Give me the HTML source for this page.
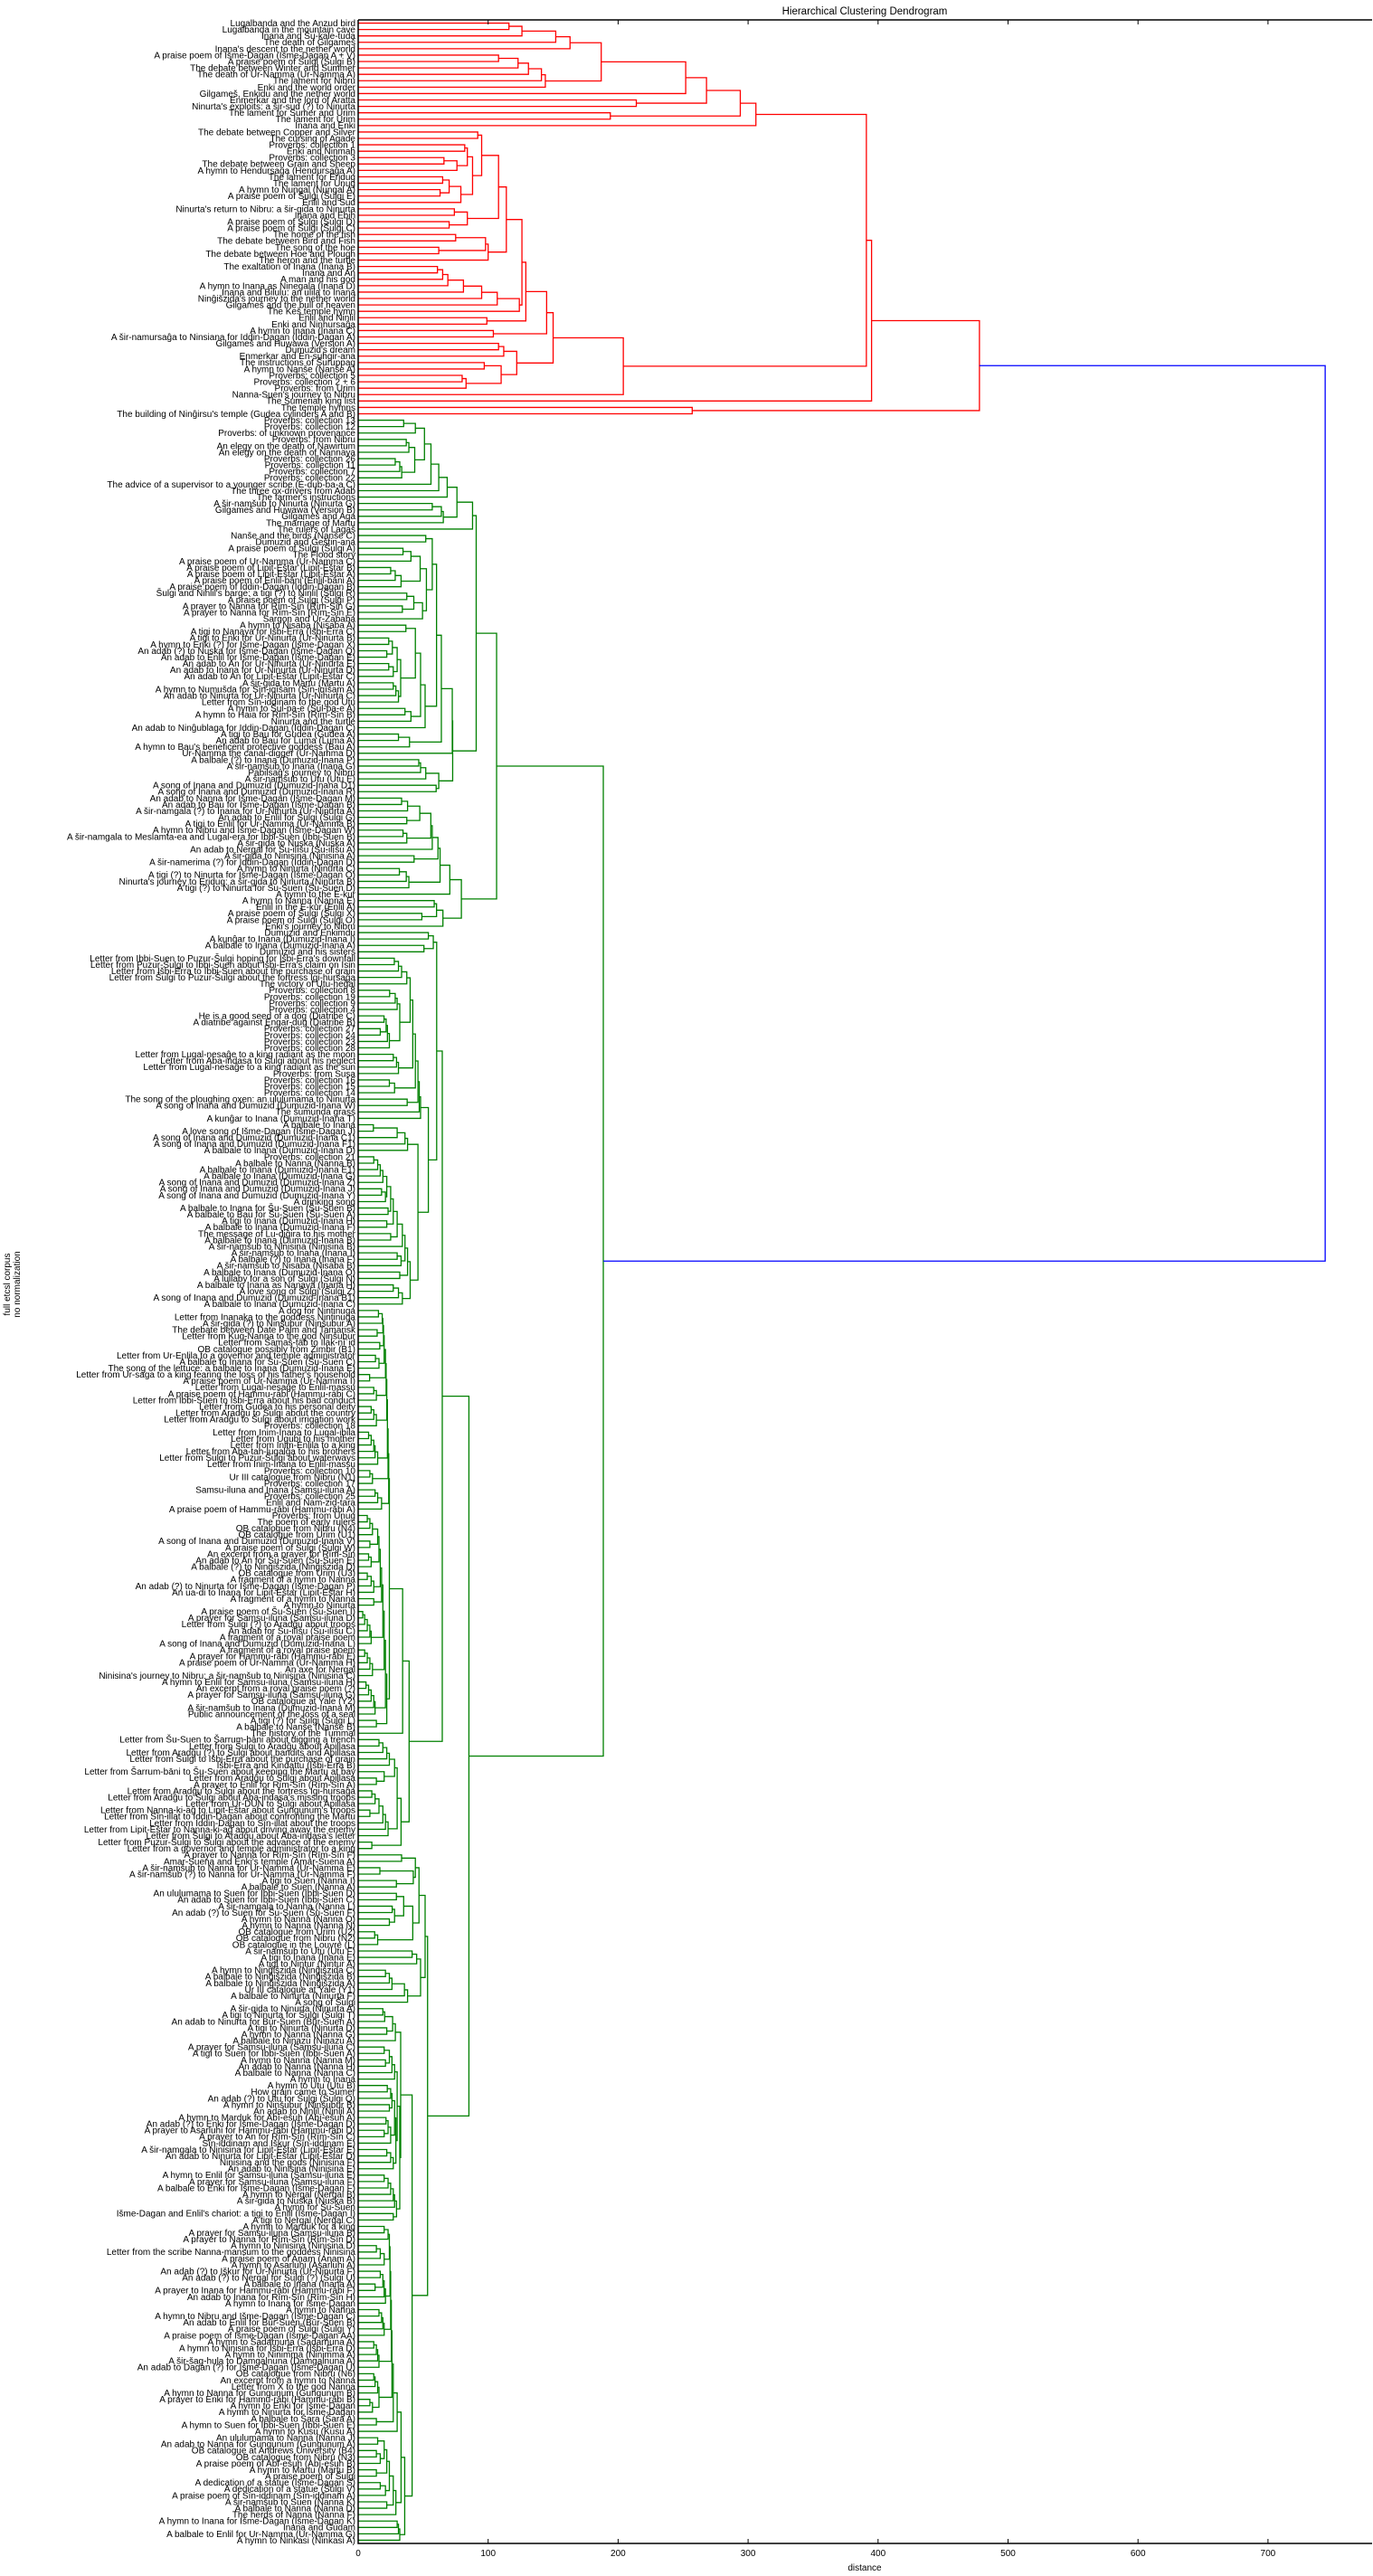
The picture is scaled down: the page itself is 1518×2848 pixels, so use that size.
<!DOCTYPE html>
<html><head><meta charset="utf-8"><title>Hierarchical Clustering Dendrogram</title>
<style>
html,body{margin:0;padding:0;background:#fff;}
svg{display:block;font-family:"Liberation Sans","DejaVu Sans",sans-serif;}
</style></head>
<body>
<svg id="chart" width="1518" height="2848" viewBox="0 0 1518 2848" xmlns="http://www.w3.org/2000/svg">
<rect x="0" y="0" width="1518" height="2848" fill="#fff"/>
<text x="956" y="16" text-anchor="middle" font-size="11.5" fill="#000">Hierarchical Clustering Dendrogram</text>
<g font-size="10" fill="#000">
<text transform="translate(11,1420) rotate(-90)" text-anchor="middle">full etcsl corpus</text>
<text transform="translate(22,1420) rotate(-90)" text-anchor="middle">no normalization</text>
</g>
<text x="956" y="2842" text-anchor="middle" font-size="10" fill="#000">distance</text>
<g id="links"></g>
<g id="labels"></g>
<g id="axes"></g>
</svg>
<script>
// ---- data ----
const xTicks = [0,100,200,300,400,500,600,700];
const labels = [
"Lugalbanda and the Anzud bird","Lugalbanda in the mountain cave","Inana and Šu-kale-tuda","The death of Gilgameš","Inana's descent to the nether world","A praise poem of Išme-Dagan (Išme-Dagan A + V)","A praise poem of Šulgi (Šulgi B)","The debate between Winter and Summer","The death of Ur-Namma (Ur-Namma A)","The lament for Nibru",
"Enki and the world order","Gilgameš, Enkidu and the nether world","Enmerkar and the lord of Aratta","Ninurta's exploits: a šir-sud (?) to Ninurta","The lament for Sumer and Urim","The lament for Urim","Inana and Enki","The debate between Copper and Silver","The cursing of Agade","Proverbs: collection 1",
"Enki and Ninmah","Proverbs: collection 3","The debate between Grain and Sheep","A hymn to Hendursaĝa (Hendursaĝa A)","The lament for Eridug","The lament for Unug","A hymn to Nungal (Nungal A)","A praise poem of Šulgi (Šulgi E)","Enlil and Sud","Ninurta's return to Nibru: a šir-gida to Ninurta",
"Inana and Ebih","A praise poem of Šulgi (Šulgi D)","A praise poem of Šulgi (Šulgi C)","The home of the fish","The debate between Bird and Fish","The song of the hoe","The debate between Hoe and Plough","The heron and the turtle","The exaltation of Inana (Inana B)","Inana and An",
"A man and his god","A hymn to Inana as Ninegala (Inana D)","Inana and Bilulu: an ulila to Inana","Ninĝišzida's journey to the nether world","Gilgameš and the bull of heaven","The Keš temple hymn","Enlil and Ninlil","Enki and Ninhursaĝa","A hymn to Inana (Inana C)","A šir-namursaĝa to Ninsiana for Iddin-Dagan (Iddin-Dagan A)",
"Gilgameš and Huwawa (Version A)","Dumuzid's dream","Enmerkar and En-suhgir-ana","The instructions of Šuruppag","A hymn to Nanše (Nanše A)","Proverbs: collection 5","Proverbs: collection 2 + 6","Proverbs: from Urim","Nanna-Suen's journey to Nibru","The Sumerian king list",
"The temple hymns","The building of Ninĝirsu's temple (Gudea cylinders A and B)","Proverbs: collection 13","Proverbs: collection 12","Proverbs: of unknown provenance","Proverbs: from Nibru","An elegy on the death of Nawirtum","An elegy on the death of Nannaya","Proverbs: collection 26","Proverbs: collection 11",
"Proverbs: collection 7","Proverbs: collection 22","The advice of a supervisor to a younger scribe (E-dub-ba-a C)","The three ox-drivers from Adab","The farmer's instructions","A šir-namšub to Ninurta (Ninurta G)","Gilgameš and Huwawa (Version B)","Gilgameš and Aga","The marriage of Martu","The rulers of Lagaš",
"Nanše and the birds (Nanše C)","Dumuzid and Ĝeštin-ana","A praise poem of Šulgi (Šulgi A)","The Flood story","A praise poem of Ur-Namma (Ur-Namma C)","A praise poem of Lipit-Eštar (Lipit-Eštar B)","A praise poem of Lipit-Eštar (Lipit-Eštar A)","A praise poem of Enlil-bāni (Enlil-bāni A)","A praise poem of Iddin-Dagan (Iddin-Dagan B)","Šulgi and Ninlil's barge: a tigi (?) to Ninlil (Šulgi R)",
"A praise poem of Šulgi (Šulgi P)","A prayer to Nanna for Rīm-Sîn (Rīm-Sîn G)","A prayer to Nanna for Rīm-Sîn (Rīm-Sîn E)","Sargon and Ur-Zababa","A hymn to Nisaba (Nisaba A)","A tigi to Nanaya for Išbi-Erra (Išbi-Erra C)","A tigi to Enki for Ur-Ninurta (Ur-Ninurta B)","A hymn to Enki (?) for Išme-Dagan (Išme-Dagan X)","An adab (?) to Nuska for Išme-Dagan (Išme-Dagan Q)","An adab to Enlil for Išme-Dagan (Išme-Dagan E)",
"An adab to An for Ur-Ninurta (Ur-Ninurta E)","An adab to Inana for Ur-Ninurta (Ur-Ninurta D)","An adab to An for Lipit-Eštar (Lipit-Eštar C)","A šir-gida to Martu (Martu A)","A hymn to Numušda for Sîn-iqīšam (Sîn-iqīšam A)","An adab to Ninurta for Ur-Ninurta (Ur-Ninurta C)","Letter from Sîn-iddinam to the god Utu","A hymn to Šul-pa-e (Šul-pa-e A)","A hymn to Haia for Rīm-Sîn (Rīm-Sîn B)","Ninurta and the turtle",
"An adab to Ninĝublaga for Iddin-Dagan (Iddin-Dagan C)","A tigi to Bau for Gudea (Gudea A)","An adab to Bau for Luma (Luma A)","A hymn to Bau's beneficent protective goddess (Bau A)","Ur-Namma the canal-digger (Ur-Namma D)","A balbale (?) to Inana (Dumuzid-Inana P)","A šir-namšub to Inana (Inana G)","Pabilsaĝ's journey to Nibru","A šir-namšub to Utu (Utu E)","A song of Inana and Dumuzid (Dumuzid-Inana D1)",
"A song of Inana and Dumuzid (Dumuzid-Inana R)","An adab to Nanna for Išme-Dagan (Išme-Dagan M)","An adab to Bau for Išme-Dagan (Išme-Dagan B)","A šir-namgala (?) to Inana for Ur-Ninurta (Ur-Ninurta A)","An adab to Enlil for Šulgi (Šulgi G)","A tigi to Enlil for Ur-Namma (Ur-Namma B)","A hymn to Nibru and Išme-Dagan (Išme-Dagan W)","A šir-namgala to Meslamta-ea and Lugal-era for Ibbi-Suen (Ibbi-Suen B)","A šir-gida to Nuska (Nuska A)","An adab to Nergal for Šu-ilīšu (Šu-ilīšu A)",
"A šir-gida to Ninisina (Ninisina A)","A šir-namerima (?) for Iddin-Dagan (Iddin-Dagan D)","A hymn to Ninurta (Ninurta C)","A tigi (?) to Ninurta for Išme-Dagan (Išme-Dagan O)","Ninurta's journey to Eridug: a šir-gida to Ninurta (Ninurta B)","A tigi (?) to Ninurta for Šu-Suen (Šu-Suen D)","A hymn to the E-kur","A hymn to Nanna (Nanna E)","Enlil in the E-kur (Enlil A)","A praise poem of Šulgi (Šulgi X)",
"A praise poem of Šulgi (Šulgi O)","Enki's journey to Nibru","Dumuzid and Enkimdu","A kunĝar to Inana (Dumuzid-Inana I)","A balbale to Inana (Dumuzid-Inana A)","Dumuzid and his sisters","Letter from Ibbi-Suen to Puzur-Šulgi hoping for Išbi-Erra's downfall","Letter from Puzur-Šulgi to Ibbi-Suen about Išbi-Erra's claim on Isin","Letter from Išbi-Erra to Ibbi-Suen about the purchase of grain","Letter from Šulgi to Puzur-Šulgi about the fortress Igi-hursaĝa",
"The victory of Utu-heĝal","Proverbs: collection 8","Proverbs: collection 19","Proverbs: collection 9","Proverbs: collection 4","He is a good seed of a dog (Diatribe C)","A diatribe against Engar-dug (Diatribe B)","Proverbs: collection 27","Proverbs: collection 24","Proverbs: collection 23",
"Proverbs: collection 28","Letter from Lugal-nesaĝe to a king radiant as the moon","Letter from Aba-indasa to Šulgi about his neglect","Letter from Lugal-nesaĝe to a king radiant as the sun","Proverbs: from Susa","Proverbs: collection 16","Proverbs: collection 15","Proverbs: collection 14","The song of the ploughing oxen: an ululumama to Ninurta","A song of Inana and Dumuzid (Dumuzid-Inana W)",
"The šumunda grass","A kunĝar to Inana (Dumuzid-Inana T)","A balbale to Inana","A love song of Išme-Dagan (Išme-Dagan J)","A song of Inana and Dumuzid (Dumuzid-Inana C1)","A song of Inana and Dumuzid (Dumuzid-Inana F1)","A balbale to Inana (Dumuzid-Inana D)","Proverbs: collection 21","A balbale to Nanna (Nanna B)","A balbale to Inana (Dumuzid-Inana E1)",
"A balbale to Inana (Dumuzid-Inana G)","A song of Inana and Dumuzid (Dumuzid-Inana Z)","A song of Inana and Dumuzid (Dumuzid-Inana J)","A song of Inana and Dumuzid (Dumuzid-Inana Y)","A drinking song","A balbale to Inana for Šu-Suen (Šu-Suen B)","A balbale to Bau for Šu-Suen (Šu-Suen A)","A tigi to Inana (Dumuzid-Inana H)","A balbale to Inana (Dumuzid-Inana F)","The message of Lu-diĝira to his mother",
"A balbale to Inana (Dumuzid-Inana B)","A šir-namšub to Ninisina (Ninisina B)","A šir-namšub to Inana (Inana I)","A balbale (?) to Inana (Inana F)","A šir-namšub to Nisaba (Nisaba B)","A balbale to Inana (Dumuzid-Inana O)","A lullaby for a son of Šulgi (Šulgi N)","A balbale to Inana as Nanaya (Inana H)","A love song of Šulgi (Šulgi Z)","A song of Inana and Dumuzid (Dumuzid-Inana B1)",
"A balbale to Inana (Dumuzid-Inana C)","A dog for Nintinuga","Letter from Inanaka to the goddess Nintinuga","A šir-gida (?) to Ninšubur (Ninšubur A)","The debate between Date Palm and Tamarisk","Letter from Kug-Nanna to the god Ninšubur","Letter from Šamaš-ṭāb to Ilak-nīʾid","OB catalogue possibly from Zimbir (B1)","Letter from Ur-Enlila to a governor and temple administrator","A balbale to Inana for Šu-Suen (Šu-Suen C)",
"The song of the lettuce: a balbale to Inana (Dumuzid-Inana E)","Letter from Ur-saga to a king fearing the loss of his father's household","A praise poem of Ur-Namma (Ur-Namma I)","Letter from Lugal-nesaĝe to Enlil-massu","A praise poem of Hammu-rābi (Hammu-rābi C)","Letter from Ibbi-Suen to Išbi-Erra about his bad conduct","Letter from Gudea to his personal deity","Letter from Aradĝu to Šulgi about the country","Letter from Aradĝu to Šulgi about irrigation work","Proverbs: collection 18",
"Letter from Inim-Inana to Lugal-ibila","Letter from Ugubi to his mother","Letter from Inim-Enlila to a king","Letter from Aba-tah-lugalĝa to his brothers","Letter from Šulgi to Puzur-Šulgi about waterways","Letter from Inim-Inana to Enlil-massu","Proverbs: collection 10","Ur III catalogue from Nibru (N1)","Proverbs: collection 17","Samsu-iluna and Inana (Samsu-iluna A)",
"Proverbs: collection 25","Enlil and Nam-zid-tara","A praise poem of Hammu-rābi (Hammu-rābi A)","Proverbs: from Unug","The poem of early rulers","OB catalogue from Nibru (N4)","OB catalogue from Urim (U1)","A song of Inana and Dumuzid (Dumuzid-Inana V)","A praise poem of Šulgi (Šulgi W)","An excerpt from a prayer for Rīm-Sîn",
"An adab to An for Šu-Suen (Šu-Suen E)","A balbale (?) to Ninĝišzida (Ninĝišzida D)","OB catalogue from Urim (U3)","A fragment of a hymn to Nanna","An adab (?) to Ninurta for Išme-Dagan (Išme-Dagan P)","An ua-di to Inana for Lipit-Eštar (Lipit-Eštar H)","A fragment of a hymn to Nanna","A hymn to Ninurta","A praise poem of Šu-Suen (Šu-Suen I)","A prayer for Samsu-iluna (Samsu-iluna D)",
"Letter from Šulgi (?) to Aradĝu about troops","An adab for Šu-ilīšu (Šu-ilīšu C)","A fragment of a royal praise poem","A song of Inana and Dumuzid (Dumuzid-Inana L)","A fragment of a royal praise poem","A prayer for Hammu-rābi (Hammu-rābi E)","A praise poem of Ur-Namma (Ur-Namma H)","An axe for Nergal","Ninisina's journey to Nibru: a šir-namšub to Ninisina (Ninisina C)","A hymn to Enlil for Samsu-iluna (Samsu-iluna H)",
"An excerpt from a royal praise poem (?)","A prayer for Samsu-iluna (Samsu-iluna G)","OB catalogue at Yale (Y2)","A šir-namšub to Inana (Dumuzid-Inana M)","Public announcement of the loss of a seal","A tigi (?) for Šulgi (Šulgi L)","A balbale to Nanše (Nanše B)","The history of the Tummal","Letter from Šu-Suen to Šarrum-bāni about digging a trench","Letter from Šulgi to Aradĝu about Apillasa",
"Letter from Aradĝu (?) to Šulgi about bandits and Apillasa","Letter from Šulgi to Išbi-Erra about the purchase of grain","Išbi-Erra and Kindattu (Išbi-Erra B)","Letter from Šarrum-bāni to Šu-Suen about keeping the Martu at bay","Letter from Aradĝu to Šulgi about Apillasa","A prayer to Enlil for Rīm-Sîn (Rīm-Sîn A)","Letter from Aradĝu to Šulgi about the fortress Igi-hursaĝa","Letter from Aradĝu to Šulgi about Aba-indasa's missing troops","Letter from Ur-DUN to Šulgi about Apillasa","Letter from Nanna-ki-aĝ to Lipit-Eštar about Gungunum's troops",
"Letter from Sîn-illat to Iddin-Dagan about confronting the Martu","Letter from Iddin-Dagan to Sîn-illat about the troops","Letter from Lipit-Eštar to Nanna-ki-aĝ about driving away the enemy","Letter from Šulgi to Aradĝu about Aba-indasa's letter","Letter from Puzur-Šulgi to Šulgi about the advance of the enemy","Letter from a governor and temple administrator to a king","A prayer to Nanna for Rīm-Sîn (Rīm-Sîn F)","Amar-Suena and Enki's temple (Amar-Suena A)","A šir-namšub to Nanna for Ur-Namma (Ur-Namma E)","A šir-namšub (?) to Nanna for Ur-Namma (Ur-Namma F)",
"A tigi to Suen (Nanna I)","A balbale to Suen (Nanna A)","An ululumama to Suen for Ibbi-Suen (Ibbi-Suen D)","An adab to Suen for Ibbi-Suen (Ibbi-Suen C)","A šir-namgala to Nanna (Nanna L)","An adab (?) to Suen for Šu-Suen (Šu-Suen F)","A hymn to Nanna (Nanna O)","A hymn to Nanna (Nanna N)","OB catalogue from Urim (U2)","OB catalogue from Nibru (N2)",
"OB catalogue in the Louvre (L)","A šir-namšub to Utu (Utu F)","A tigi to Inana (Inana E)","A tigi to Nintur (Nintur A)","A hymn to Ninĝišzida (Ninĝišzida C)","A balbale to Ninĝišzida (Ninĝišzida B)","A balbale to Ninĝišzida (Ninĝišzida A)","Ur III catalogue at Yale (Y1)","A balbale to Ninurta (Ninurta F)","A song of Šulgi",
"A šir-gida to Ninurta (Ninurta A)","A tigi to Ninurta for Šulgi (Šulgi T)","An adab to Ninurta for Būr-Suen (Būr-Suen A)","A tigi to Ninurta (Ninurta D)","A hymn to Nanna (Nanna G)","A balbale to Ninazu (Ninazu A)","A prayer for Samsu-iluna (Samsu-iluna C)","A tigi to Suen for Ibbi-Suen (Ibbi-Suen A)","A hymn to Nanna (Nanna M)","An adab to Nanna (Nanna H)",
"A balbale to Nanna (Nanna C)","A hymn to Inana","A hymn to Utu (Utu B)","How grain came to Sumer","An adab (?) to Utu for Šulgi (Šulgi Q)","A hymn to Ninšubur (Ninšubur B)","An adab to Ninlil (Ninlil A)","A hymn to Marduk for Abī-ešuh (Abī-ešuh A)","An adab (?) to Enki for Išme-Dagan (Išme-Dagan D)","A prayer to Asarluhi for Hammu-rābi (Hammu-rābi D)",
"A prayer to An for Rīm-Sîn (Rīm-Sîn C)","Sîn-iddinam and Iškur (Sîn-iddinam E)","A šir-namgala to Ninisina for Lipit-Eštar (Lipit-Eštar E)","An adab to Ninurta for Lipit-Eštar (Lipit-Eštar D)","Ninisina and the gods (Ninisina F)","An adab to Ninisina (Ninisina E)","A hymn to Enlil for Samsu-iluna (Samsu-iluna E)","A prayer for Samsu-iluna (Samsu-iluna F)","A balbale to Enki for Išme-Dagan (Išme-Dagan F)","A hymn to Nergal (Nergal B)",
"A šir-gida to Nuska (Nuska B)","A hymn for Šu-Suen","Išme-Dagan and Enlil's chariot: a tigi to Enlil (Išme-Dagan I)","A tigi to Nergal (Nergal C)","A hymn to Marduk for a king","A prayer for Samsu-iluna (Samsu-iluna B)","A prayer to Nanna for Rīm-Sîn (Rīm-Sîn D)","A hymn to Ninisina (Ninisina D)","Letter from the scribe Nanna-mansum to the goddess Ninisina","A praise poem of Anam (Anam A)",
"A hymn to Asarluhi (Asarluhi A)","An adab (?) to Iškur for Ur-Ninurta (Ur-Ninurta F)","An adab (?) to Nergal for Šulgi (?) (Šulgi U)","A balbale to Inana (Inana A)","A prayer to Inana for Hammu-rābi (Hammu-rābi F)","An adab to Inana for Rīm-Sîn (Rīm-Sîn H)","A hymn to Inana for Išme-Dagan","A hymn to Nanna","A hymn to Nibru and Išme-Dagan (Išme-Dagan C)","An adab to Enlil for Būr-Suen (Būr-Suen B)",
"A praise poem of Šulgi (Šulgi Y)","A praise poem of Išme-Dagan (Išme-Dagan AA)","A hymn to Šadarnuna (Šadarnuna A)","A hymn to Ninisina for Išbi-Erra (Išbi-Erra D)","A hymn to Ninimma (Ninimma A)","A šir-šag-hula to Damgalnuna (Damgalnuna A)","An adab to Dagan (?) for Išme-Dagan (Išme-Dagan U)","OB catalogue from Nibru (N6)","An excerpt from a hymn to Nanna","Letter from X to the god Nanna",
"A hymn to Nanna for Gungunum (Gungunum B)","A prayer to Enki for Hammu-rābi (Hammu-rābi B)","A hymn to Enki for Išme-Dagan","A hymn to Ninurta for Išme-Dagan","A balbale to Šara (Šara A)","A hymn to Suen for Ibbi-Suen (Ibbi-Suen E)","A hymn to Kusu (Kusu A)","An ululumama to Nanna (Nanna J)","An adab to Nanna for Gungunum (Gungunum A)","OB catalogue at Andrews University (B4)",
"OB catalogue from Nibru (N3)","A praise poem of Abī-ešuh (Abī-ešuh B)","A hymn to Martu (Martu B)","A praise poem of Šulgi","A dedication of a statue (Išme-Dagan S)","A dedication of a statue (Šulgi V)","A praise poem of Sîn-iddinam (Sîn-iddinam A)","A šir-namšub to Suen (Nanna K)","A balbale to Nanna (Nanna D)","The herds of Nanna (Nanna F)",
"A hymn to Inana for Išme-Dagan (Išme-Dagan K)","Inana and Gudam","A balbale to Enlil for Ur-Namma (Ur-Namma G)","A hymn to Ninkasi (Ninkasi A)"
];
// Tree nodes: [mergeDistances], child0, child1, ... (children merged left-to-right; numbers = leaf index)
const redA = [[116,126,152,163],0,1,2,3,4];
const redB = [[108,123,131,141,144],5,6,7,8,9,10];
const redTop = [[268,294,306],[[187,252],redA,redB,11],[[214],12,13],[[194],14,15],16];
const redC = [[95],[[92],17,18],[[88],[[84],[[82],19,20],[[66,76],21,22,23]],[[70,79],[[65],24,25],[[63],26,27],28]]];
const redD = [[114],[[108],redC,[[84],[[74],29,30],[[70],31,32]]],[[98,100],[[75],33,34],[[62],35,36],37]];
const redE = [[61,65,69,81,95,107,124],38,39,40,41,42,43,44,45];
const redF = [[122],[[108,112],50,51,52],[[110],[[97],53,54],[[80,83],55,56,57]]];
const redMid = [[126,129,145,150,204],redD,redE,[[99],46,47],[[104],48,49],redF,58];
const RED = [[391,395,478],redTop,redMid,59,[[257],60,61]];

const gA1a = [[76,88],[[51,56,62,68.5],[[35,44],62,63,64],[[43.5],[[37,39],65,66,67],[[28.5,32,33.5],68,69,70,71]],72,73,74],[[57,64,65.5],75,76,77,78],79];
const gH7 = [[47.7,52.5],[[34.5,40.6],82,83,84],[[25,28.5,33],85,86,87,88],[[42.8,49.5],[[37.4],89,90],[[34],91,92],93]];
const gH13 = [[30,32.7],[[23.5,26.3],96,97,[[22],98,99]],[[23.5,27],100,101,102],[[27,29,31],103,104,105,106]];
const gH15 = [[44,48,51.5],[[36.7],94,95],gH13,[[36,40.6],107,108,109],110];
const gA1b = [[72.4,72.7],[[60.3,64],[[57],[[52],80,81],gH7],gH15,[[31,39.5],111,112,113]],114,[[62],[[46.6,48,52],115,116,117,118],[[60],119,120]]];
const gA2 = [[79.4],[[55.9,57,61.4,63,70.5],[[47.4],[[33.4,38],121,122,123],[[37.4],124,125]],[[34.5,37.4],126,127,128],129,[[43],130,131],[[31.7,37,39],132,133,134,135],136],[[58.5,60.3,65.2],137,138,[[49],139,140],141]];
const gA = [[106.5],[[90.8],gA1a,gA1b],gA2];

const gP = [[40,42,44,46,47,48],[[27.8,31,33.4,37.4],146,147,148,149,150],[[32],[[24.2,28.5,30],151,152,153,154],[[19.9,21.5,22.5,24],155,156,[[17],157,158],159,160]],[[27,29.5,31],161,162,163,164],[[24,28],165,166,167],[[37.7],168,169],170,171];
const gQ1 = [[22,25,27,30,34,36,38,40],[[12,15,17,19],177,178,179,180,181],[[18,21],182,183,184],[[23],185,186],[[22],187,188],[[25],189,190],191,[[30,33],192,193,194],[[32],195,196],[[27,31,34],197,198,199,200]];
const gQ = [[46],[[30,36,38],[[11.7],172,173],174,175,176],gQ1];
const gB1a = [[60.4],[[57.8],[[54],142,143],[[50.6],144,145]],[[54],gP,gQ]];
const gAp1 = [[19,19.5,20,21,21.5,22,22.5,23,23.5],[[15.6,18.5],201,202,203],[[14.6],204,205],[[16.6],206,207],[[13.3,16],208,209,210],[[8.8],211,212],[[12,14],213,214,215],[[10,12,14],216,217,218,219],[[8,10,12,13,15],220,221,222,223,224,225],[[9,11],226,227,228],[[13,15,18],229,230,231,232]];
const gAp2 = [[15,16,17,18,19,20,21,22],[[7,9,11],233,234,235,236],[[9],237,238],[[8,10],239,240,241],[[7,10,12],242,243,244,245],[[12],246,247],[[3.5,5,7,9,10],248,249,250,251,252,253],[[5,7,9,11],254,255,256,257,258],[[6,8,10,12,13],259,260,261,262,263,264],[[14],265,266]];
const gLet = [[28,30,33],[[16,19,22,24],268,269,270,271,272],[[20],273,[[14],274,275]],[[13,16,19,21,23],[[10.5],276,277],278,[[9],279,280],281,282,283],[[10.5],284,285]];
const gB1b = [[39.2],[[34.2],[[24],gAp1,gAp2],267],gLet];
const gB2aUp = [[46.8],[[44],[[33.4],286,287],[[42.4],[[16.7],288,289],[[29.4],290,291]]],[[35,42],[[29.4],292,293],[[28],[[26.2],294,295],[[24],296,297]],[[12.7,15],298,299,300]]];
const gB2aLow = [[45,48],[[41.5],301,302],303,[[38],[[21,24,26,35.6],304,305,306,307,308],309]];
const gUa = [[26.5,28.6],[[19,20.4],310,311,312],[[22],313,314],315];
const gUb = [[30,32],[[24,26,28],[[20],316,317],[[21],318,319],320,321],[[26,28,29,29.5],[[22.4,25],322,323,324],[[24],325,326],[[21.4,23,25],327,328,[[20],329,330],331],[[22,25,27],332,333,334,335]],[[20,23,25,27,28,29.5],336,337,338,339,340,341,[[27],342,343]]];
const gV1a = [[24,24.5,25,25.5,26,27],[[20,23],344,345,346],[[14,17,20],347,348,349,350],[[17,19,20,21],351,352,[[13],353,354],355,356],[[16,18,19,20],357,358,359,360,361],[[12,14,15,16],362,363,364,365,366],[[12,13,15,16],367,368,369,370,[[9,11],371,372,373]],[[14],374,375]];
const gV1b = [[20,22,24,27,29],[[15],377,378],[[14,17],379,380,381],[[14],382,383],[[17,21],384,385,386],[[22],387,388],389];
const gV = [[35.8],[[30,33],gV1a,376,gV1b],[[30,31,32],390,391,392,393]];
const gB2 = [[53.4],[[51.5],gB2aUp,gB2aLow],[[41.5],[[32.7],gUa,gUb],gV]];
const GREEN = [[188.6],gA,[[85.2],[[64.7],gB1a,gB1b],gB2]];
const ROOT = [[744],RED,GREEN];

// ---- layout ----
const X0 = 396, XR = 1517, PX = 1.437, TOP = 22, BOT = 2812;
const NLEAF = labels.length;
const STEP = (BOT - TOP) / NLEAF;
const THRESH = 0.7 * 744;
function xd(d){ return X0 + d * PX; }
const NS = 'http://www.w3.org/2000/svg';
const linkG = document.getElementById('links');
const labG = document.getElementById('labels');
const axG = document.getElementById('axes');
let counter = 0;
function leafColor(first){ return first < 62 ? '#ff0000' : '#008000'; }
function layout(node){
  if (typeof node === 'number'){
    const y = TOP + STEP * (counter + 0.5);
    counter++;
    const t = document.createElementNS(NS,'text');
    t.setAttribute('x', 393); t.setAttribute('y', y + 3.4);
    t.setAttribute('text-anchor','end'); t.setAttribute('font-size','10'); t.setAttribute('fill','#000');
    
    
    t.textContent = labels[node] || '';
    labG.appendChild(t);
    return {y: y, h: 0, first: node};
  }
  const hs = node[0];
  let cur = layout(node[1]);
  for (let i = 2; i < node.length; i++){
    const c = layout(node[i]);
    const h = hs[i-2];
    const col = h > THRESH ? '#0000ff' : leafColor(cur.first);
    const p = document.createElementNS(NS,'path');
    p.setAttribute('d', 'M'+xd(cur.h)+' '+cur.y+'H'+xd(h)+'V'+c.y+'H'+xd(c.h));
    p.setAttribute('fill','none'); p.setAttribute('stroke', col); p.setAttribute('stroke-width','1.3');
    
    
    linkG.appendChild(p);
    cur = {y: (cur.y + c.y)/2, h: h, first: cur.first};
  }
  return cur;
}
layout(ROOT);

// axes frame
const fr = document.createElementNS(NS,'path');
fr.setAttribute('d','M'+X0+' '+TOP+'H'+XR+'M'+X0+' '+TOP+'V'+BOT+'H'+XR);
fr.setAttribute('fill','none'); fr.setAttribute('stroke','#000'); fr.setAttribute('stroke-width','1.5');


axG.appendChild(fr);
xTicks.forEach(function(v){
  const x = xd(v);
  const tk = document.createElementNS(NS,'path');
  tk.setAttribute('d','M'+x+' '+BOT+'V'+(BOT-5)+'M'+x+' '+TOP+'V'+(TOP+5));
  tk.setAttribute('stroke','#000'); tk.setAttribute('stroke-width','1');
  
  
  axG.appendChild(tk);
  const tl = document.createElementNS(NS,'text');
  tl.setAttribute('x', x); tl.setAttribute('y', BOT + 14);
  tl.setAttribute('text-anchor','middle'); tl.setAttribute('font-size','10'); tl.setAttribute('fill','#000');
  
  
  tl.textContent = String(v);
  axG.appendChild(tl);
});
</script>
</body></html>
